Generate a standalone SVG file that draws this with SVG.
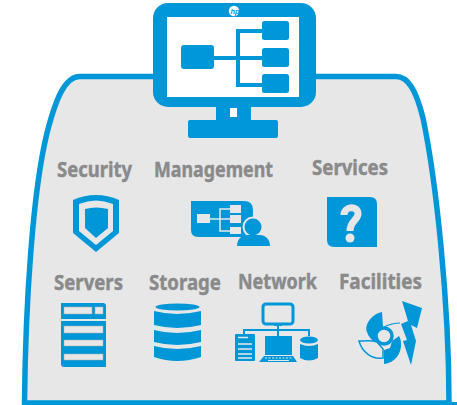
<svg xmlns="http://www.w3.org/2000/svg" width="457" height="405" viewBox="0 0 457 405">
<style>
.b{fill:#0097d9}
.g{fill:#e7e7e8}
.w{fill:#fff}
.l{fill:none;stroke:#0097d9}
.lg{fill:none;stroke:#e7e7e8}
.t{font-family:"Noto Sans","Open Sans",sans-serif;font-weight:700;font-size:21px;fill:#8a8a8b;stroke:#8a8a8b;stroke-width:.45px}
.hp{font-family:"Liberation Sans",sans-serif;font-weight:700;font-style:italic;font-size:7.500px;fill:#0097d9}
</style>
<g id="cabinet">
<path d="M24.500 403C25.500 300 33 190 47 133C56 98 65 76.500 80 76.500L396 76.500C408 76.500 416 90 423 118C436 180 449 300 449 403Z" fill="#e7e7e8" stroke="#0097d9" stroke-width="5.500"/>
<rect class="b" x="23" y="402" width="434" height="3"/>
</g>
<g id="monitor">
<rect class="b" x="153" y="3" width="163" height="104" rx="15"/>
<rect class="w" x="167" y="17" width="132" height="80"/>
<path class="b" d="M216 105H251V120H276Q278 120 278 122V136Q278 138 276 138H190Q188 138 188 136V122Q188 120 190 120H216Z"/>
<rect class="w" x="230" y="108" width="7" height="9"/>
<circle class="w" cx="234" cy="11" r="5.200"/>
<text class="hp" x="230.500" y="13.500">hp</text>
<rect class="b" x="181" y="45" width="33" height="24" rx="3"/>
<rect class="b" x="262" y="21" width="27" height="19" rx="2.500"/>
<rect class="b" x="262" y="48" width="27" height="19" rx="2.500"/>
<rect class="b" x="262" y="74" width="27" height="19" rx="2.500"/>
<path class="l" stroke-width="4" d="M213 58H264M264 31H238V85H264"/>
</g>
<g id="security">
<text class="t" x="57" y="177" textLength="75" lengthAdjust="spacingAndGlyphs">Security</text>
<path class="b" d="M73 200Q96 190 119 200V233L96 252L73 233Z"/>
<path class="g" d="M79 204Q96 197 113 204V231L96 245L79 231Z"/>
<path class="b" d="M85 209Q96 206 108 209V228L96 238L85 228Z"/>
</g>
<g id="management">
<text class="t" x="154" y="177" textLength="119" lengthAdjust="spacingAndGlyphs">Management</text>
<path class="b" d="M191 201H244Q253 201 253 210V237H198Q191 237 191 230Z"/>
<rect class="g" x="197" y="214" width="13" height="9"/>
<rect class="g" x="230" y="205" width="11" height="8"/>
<rect class="g" x="230" y="215" width="11" height="8"/>
<rect class="g" x="230" y="227" width="11" height="7"/>
<path class="lg" stroke-width="1.500" d="M210 219H232M232 209H220V231H232"/>
<circle class="b" cx="253" cy="227" r="9.500" stroke="#e7e7e8" stroke-width="2"/>
<path class="b" d="M237 246C237 238 243 235 247 235H260C266 235 270 240 270 246Z"/>
</g>
<g id="services">
<text class="t" x="312" y="175" textLength="76" lengthAdjust="spacingAndGlyphs">Services</text>
<path class="b" d="M327 197H370Q377 197 377 204V247H334Q327 247 327 240Z"/>
<path class="lg" stroke-width="7" d="M344 215C344 206 358 205 358 214C358 220 350 221 350 231"/>
<circle class="g" cx="350" cy="238" r="4.500"/>
</g>
<g id="servers">
<text class="t" x="54" y="290" textLength="69" lengthAdjust="spacingAndGlyphs">Servers</text>
<path class="b" d="M61 303H103Q106 303 106 306V319H61Z"/>
<path class="b" d="M61 321H106V367H64Q61 367 61 364Z"/>
<rect class="g" x="64" y="307" width="28" height="7" stroke="#aaa" stroke-width=".5"/>
<rect class="g" x="95" y="307" width="8" height="7" stroke="#aaa" stroke-width=".5"/>
<rect class="g" x="64" y="326" width="39" height="7" stroke="#aaa" stroke-width=".5"/>
<rect class="g" x="64" y="340" width="39" height="6" stroke="#aaa" stroke-width=".5"/>
<rect class="g" x="64" y="354" width="39" height="6" stroke="#aaa" stroke-width=".5"/>
</g>
<g id="storage">
<text class="t" x="149" y="290" textLength="72" lengthAdjust="spacingAndGlyphs">Storage</text>
<ellipse class="b" cx="177.500" cy="307" rx="22" ry="3.500"/>
<path class="b" d="M154 311Q177 317 201 311V325Q177 331 154 325Z"/>
<path class="b" d="M154 330Q177 336 201 330V342Q177 348 154 342Z"/>
<path class="b" d="M154 346Q177 352 201 346V357Q177 365 154 357Z"/>
</g>
<g id="network">
<text class="t" x="238" y="289" textLength="79" lengthAdjust="spacingAndGlyphs">Network</text>
<rect x="263" y="304" width="30" height="20" rx="3" fill="#e7e7e8" stroke="#0097d9" stroke-width="3"/>
<rect class="b" x="274" y="323" width="8" height="3"/>
<path class="l" stroke-width="2" d="M278 326V336M244 335V330H309V336"/>
<rect class="b" x="235" y="334" width="20" height="27" rx="1"/>
<path class="lg" stroke-width="1.300" d="M238 337.500H248M238 344H252M238 349H252M238 354H252M238 358H252"/>
<rect class="b" x="265" y="336" width="27" height="19"/>
<path class="b" d="M264 356H293L297 362H259Z"/>
<path class="lg" stroke-width="1" stroke-dasharray="2 1.500" d="M265 358H292"/>
<path class="lg" stroke-width="1" d="M268 360.500H289"/>
<ellipse class="b" cx="309" cy="340" rx="9" ry="3.500"/>
<path class="b" d="M300 344Q309 348 318 344V358Q309 363 300 358Z"/>
</g>
<g id="facilities">
<text class="t" x="339" y="289" textLength="83" lengthAdjust="spacingAndGlyphs">Facilities</text>
<path class="b" d="M382 312C371 314 364 326 367 332C368 336 371 339 373 341L379 341L378 333L383 327Z"/>
<path class="l" stroke-width="1.200" d="M384 327C390 324 395 323 400 323"/>
<path class="b" d="M384 364C395 363 402 353 401 343C401 340 400 338 399 336L392 341L390 348L384 350Z"/>
<path d="M359 341C364 341 372 340 377 342L383 349L383 358C372 360 362 352 359 341Z" fill="#e7e7e8" stroke="#0097d9" stroke-width="1.500"/>
<circle cx="384" cy="336" r="8" fill="#e7e7e8" stroke="#0097d9" stroke-width="3.500"/>
<path class="b" d="M402 301L422 308L417 328L411 325L416 341L411 365L403 341L407 340L401 324L408 321Z"/>
</g>
</svg>
